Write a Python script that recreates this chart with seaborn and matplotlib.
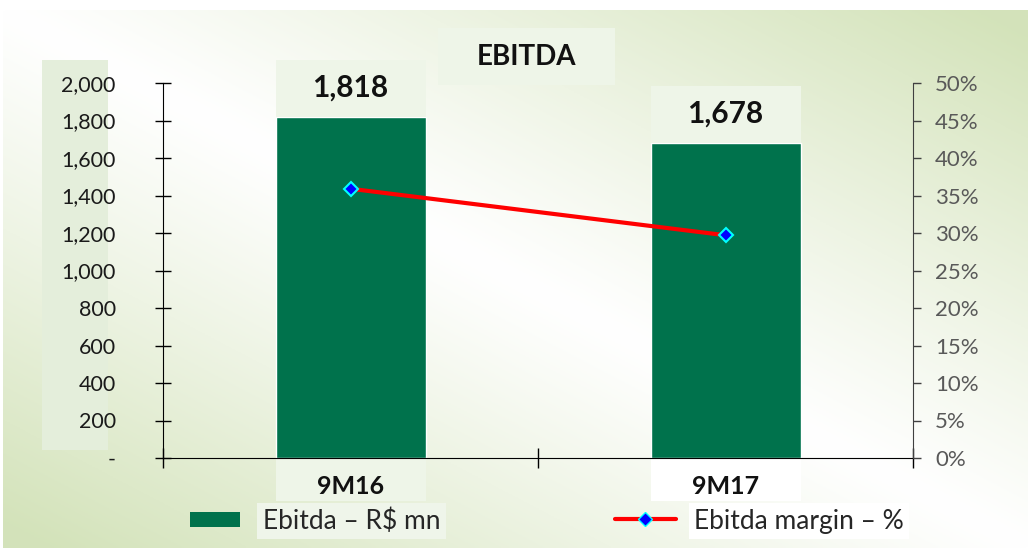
import numpy as np
import matplotlib
matplotlib.use("Agg")
import matplotlib.pyplot as plt
import matplotlib.transforms as mtransforms
from matplotlib.patches import Rectangle
from matplotlib.lines import Line2D
import seaborn as sns

sns.set_style("white")
plt.rcParams['font.family'] = ['Lato', 'DejaVu Sans']

# data
periods = ["9M16", "9M17"]
ebitda = [1818, 1678]
margin = [0.359, 0.297]
left_ticks = [0, 200, 400, 600, 800, 1000, 1200, 1400, 1600, 1800, 2000]
left_labels = ["-", "200", "400", "600", "800", "1,000", "1,200", "1,400", "1,600", "1,800", "2,000"]
right_ticks = [0, 0.05, 0.10, 0.15, 0.20, 0.25, 0.30, 0.35, 0.40, 0.45, 0.50]
right_labels = ["0%", "5%", "10%", "15%", "20%", "25%", "30%", "35%", "40%", "45%", "50%"]

GREEN = "#00724C"
BOX = "#eef5e8"

W, H = 1028, 550
fig = plt.figure(figsize=(W / 100, H / 100), dpi=100)

# gradient background
bg = fig.add_axes([3 / W, 2 / H, 1 - 3 / W, 538 / H], zorder=-10)
xx, yy = np.meshgrid(np.linspace(0, 1, 300), np.linspace(0, 1, 200))
t = np.clip(np.abs(xx - yy) * 1.05, 0, 1) ** 1.1
white = np.array([1.0, 1.0, 1.0])
green = np.array([0.83, 0.89, 0.73])
img = white[None, None, :] * (1 - t[..., None]) + green[None, None, :] * t[..., None]
bg.imshow(img, aspect="auto", extent=[0, 1, 0, 1], origin="upper")
bg.axis("off")

# box behind left tick labels
fig.add_artist(Rectangle((42 / W, 1 - 450 / H), 66 / W, 390 / H, transform=fig.transFigure,
                         facecolor="#e4eedb", edgecolor="none", zorder=-5))

ax = fig.add_axes([163 / W, 1 - 458 / H, 750 / W, 375 / H])
ax.patch.set_visible(False)
sns.barplot(x=periods, y=ebitda, color=GREEN, saturation=1, width=0.4, ax=ax)

ax2 = ax.twinx()
sns.pointplot(x=periods, y=margin, ax=ax2, color="red", errorbar=None,
              marker="D", linestyle="-", linewidth=3, markersize=7.5,
              markerfacecolor="blue", markeredgecolor="cyan", markeredgewidth=1.5)

ax.set_xlim(-0.5, 1.5)
ax.set_ylim(0, 2000)
ax2.set_ylim(0, 0.5)

# value boxes above bars
for p, v in zip(list(ax.patches), ebitda):
    ax.add_patch(Rectangle((p.get_x(), p.get_height()), p.get_width(), 305,
                           facecolor=BOX, edgecolor="none", clip_on=False, zorder=1.5))
    ax.text(p.get_x() + p.get_width() / 2, p.get_height() + 160, f"{v:,}",
            ha="center", va="center", fontsize=21.5, fontweight="bold", color="#111111", zorder=3)

# category label boxes
blend = mtransforms.blended_transform_factory(ax.transData, ax.transAxes)
for p, c in zip(list(ax.patches)[:2], [BOX, "white"]):
    ax.add_patch(Rectangle((p.get_x(), -0.115), p.get_width(), 0.115, transform=blend,
                           facecolor=c, edgecolor="none", clip_on=False, zorder=0.5))

ax.set_xticks([-0.5, 0.5, 1.5])
ax.set_xticklabels([])
ax.set_xticks([0, 1], minor=True)
ax.set_xticklabels(periods, minor=True, fontsize=18, fontweight="bold", color="#111111")
ax.tick_params(axis="x", which="minor", bottom=True, length=0, pad=12)
ax.tick_params(axis="x", which="major", bottom=True, direction="inout", length=14, width=1, color="black")
ax.set_xlabel("")

ax.set_yticks(left_ticks)
ax.set_yticklabels(left_labels, fontsize=15.5, color="#1a1a1a")
ax.tick_params(axis="y", left=True, direction="inout", length=12, width=1, color="black", pad=28)
ax.set_ylabel("")

ax2.set_yticks(right_ticks)
ax2.set_yticklabels(right_labels, fontsize=16, color="#595959")
ax2.tick_params(axis="y", right=True, direction="out", length=6, width=1, color="#404040", pad=10)
ax2.set_ylabel("")

for a in (ax, ax2):
    a.spines["top"].set_visible(False)
ax.spines["right"].set_visible(False)
ax.spines["left"].set_color("black")
ax.spines["bottom"].set_color("black")
ax2.spines["left"].set_visible(False)
ax2.spines["bottom"].set_visible(False)
ax2.spines["right"].set_color("#404040")

# title
fig.add_artist(Rectangle((438 / W, 1 - 85 / H), 177 / W, 57 / H, transform=fig.transFigure,
                         facecolor=BOX, edgecolor="none"))
fig.text(526.5 / W, 1 - 57 / H, "EBITDA", ha="center", va="center",
         fontsize=20, fontweight="bold", color="#111111")

# legends
h1 = Rectangle((0, 0), 1, 1, facecolor=GREEN, edgecolor="none")
leg1 = fig.legend([h1], ["Ebitda – R$ mn"], loc="center left", bbox_to_anchor=(190 / W, 1 - 521 / H),
                  frameon=False, fontsize=19, handlelength=1.9, handleheight=0.5,
                  handletextpad=0.85, borderpad=0, borderaxespad=0)
h2 = Line2D([0], [0], color="red", linewidth=3, marker="D", markersize=7,
            markerfacecolor="blue", markeredgecolor="cyan", markeredgewidth=1)
leg2 = fig.legend([h2], ["Ebitda margin – %"], loc="center left", bbox_to_anchor=(615 / W, 1 - 521 / H),
                  frameon=False, fontsize=19, handlelength=2.3, handletextpad=0.7,
                  borderpad=0, borderaxespad=0)
leg1.get_texts()[0].set_bbox(dict(facecolor="#eff5ea", edgecolor="none", pad=4))
leg2.get_texts()[0].set_bbox(dict(facecolor="white", edgecolor="none", pad=4))

fig.savefig("out.png", dpi=100)
